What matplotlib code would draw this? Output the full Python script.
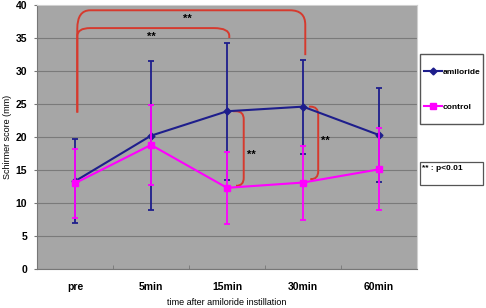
import numpy as np
import matplotlib
matplotlib.use('Agg')
import matplotlib.pyplot as plt
from matplotlib.path import Path
from matplotlib.patches import PathPatch, Rectangle

# data
times = ['pre', '5min', '15min', '30min', '60min']
amiloride_mean = [13.3, 20.2, 23.9, 24.6, 20.3]
amiloride_sd = [6.4, 11.3, 10.4, 7.1, 7.1]
control_mean = [13.0, 18.8, 12.3, 13.1, 15.1]
control_sd = [5.2, 6.0, 5.5, 5.6, 6.2]

# significance brackets: (from group, to group, start y, top y, end y)
top_brackets = [(0, 2, 23.7, 36.5, 35.0), (0, 3, 23.7, 39.2, 32.4)]
side_brackets = [(2, 23.9, 12.6), (3, 24.6, 13.6)]

plt.rcParams['font.family'] = ['Liberation Sans', 'DejaVu Sans']
plt.rcParams['font.weight'] = 'bold'

NAVY = '#1e1e8c'
MAGENTA = '#ff00ff'
RED = '#d63a2e'


def rounded_path(points, radius):
    """
    Polyline through points with quadratic rounded corners
    radius given per corner as (rx, ry) in data units
    """
    verts = [points[0]]
    codes = [Path.MOVETO]
    for i in range(1, len(points) - 1):
        p0, p1, p2 = np.array(points[i - 1]), np.array(points[i]), np.array(points[i + 1])
        rx, ry = radius[i - 1]
        d_in = p1 - p0
        d_out = p2 - p1
        a = p1 - np.sign(d_in) * np.array([rx, ry]) * (d_in != 0)
        b = p1 + np.sign(d_out) * np.array([rx, ry]) * (d_out != 0)
        verts += [tuple(a), tuple(p1), tuple(b)]
        codes += [Path.LINETO, Path.CURVE3, Path.CURVE3]
    verts.append(points[-1])
    codes.append(Path.LINETO)
    return Path(verts, codes)


fig = plt.figure(figsize=(4.86, 3.08), dpi=100)
ax = fig.add_axes([37 / 486, 39 / 308, 380 / 486, 264 / 308])
ax.set_facecolor('#a6a6a6')

x = np.arange(len(times))

eb_a = ax.errorbar(x, amiloride_mean, yerr=amiloride_sd, color=NAVY, lw=1.5,
                   marker='D', ms=3.5, capsize=2.5, elinewidth=1.3, capthick=1.3,
                   label='amiloride', zorder=3)
eb_c = ax.errorbar(x, control_mean, yerr=control_sd, color=MAGENTA, lw=1.5,
                   marker='s', ms=5, capsize=2.5, elinewidth=1.3, capthick=1.3,
                   label='control', zorder=4)

# brackets over pre vs 15min / 30min
for i, j, y0, ytop, yend in top_brackets:
    x0 = x[i] + 0.03
    x1 = x[j] + 0.03
    pts = [(x0, y0), (x0, ytop), (x1, ytop), (x1, yend)]
    r = [(0.17, 2.8 if j == 3 else 1.2), (0.2, 2.2 if j == 3 else 1.2)]
    ax.add_patch(PathPatch(rounded_path(pts, r), fill=False, ec=RED, lw=1.4, zorder=2))
    ax.text((x0 + x1) / 2 - (0.05 if j == 3 else 0.02), ytop - 1.3, '**', ha='center', va='center',
            fontsize=8, color='black')

# brackets between amiloride and control at 15min / 30min
for k, ya, yc in side_brackets:
    xs = x[k] + 0.08
    xr = x[k] + 0.22 if k == 2 else x[k] + 0.2
    pts = [(xs, ya), (xr, ya), (xr, yc), (xs + 0.05, yc)]
    ax.add_patch(PathPatch(rounded_path(pts, [(0.1, 1.2), (0.1, 1.2)]),
                           fill=False, ec=RED, lw=1.4, zorder=2))
    ax.text(xr + 0.1, (ya + yc) / 2 - (1.0 if k == 2 else -0.3), '**', ha='center',
            va='center', fontsize=8, color='black')

ax.set_xlim(-0.5, len(times) - 0.5)
ax.set_ylim(0, 40)
ax.set_yticks(np.arange(0, 41, 5))
ax.set_xticks(x)
ax.set_xticklabels(times)
ax.set_xticks(np.arange(-0.5, len(times), 1), minor=True)
ax.tick_params(axis='x', which='major', length=0, pad=9, labelsize=7.5)
ax.tick_params(axis='x', which='minor', length=3, direction='in', color='#777777')
ax.tick_params(axis='y', length=2, pad=5, labelsize=7.5, color='#777777')
ax.yaxis.grid(True, color='#7a7a7a', lw=0.8)
ax.set_axisbelow(True)
for side in ['left', 'bottom']:
    ax.spines[side].set_color('#777777')
for side in ['top', 'right']:
    ax.spines[side].set_color('#d0d0d0')

ax.set_ylabel('Schirmer score (mm)', fontsize=6.5, labelpad=3)
ax.set_xlabel('time after amiloride instillation', fontsize=6.5, labelpad=5)

# legend box drawn separately, legend itself frameless inside it
fig.patches.append(Rectangle((420 / 486, 1 - 124 / 308), 63 / 486, 70 / 308,
                             transform=fig.transFigure, fc='white', ec='#555555', lw=1.0))
leg = fig.legend(handles=[eb_a[0], eb_c[0]], labels=['amiloride', 'control'],
                 loc='center left', bbox_to_anchor=(424 / 486, 1 - 89.5 / 308),
                 fontsize=6, frameon=False, handlelength=2.1, handletextpad=0.15,
                 labelspacing=3.2, borderpad=0, borderaxespad=0)

# p-value note box
fig.patches.append(Rectangle((420 / 486, 1 - 185 / 308), 63 / 486, 23 / 308,
                             transform=fig.transFigure, fc='white', ec='#555555', lw=0.9))
fig.text(422 / 486, 1 - 165 / 308, '** : p<0.01', fontsize=6, va='top', ha='left')

fig.savefig('out.png', dpi=100)
